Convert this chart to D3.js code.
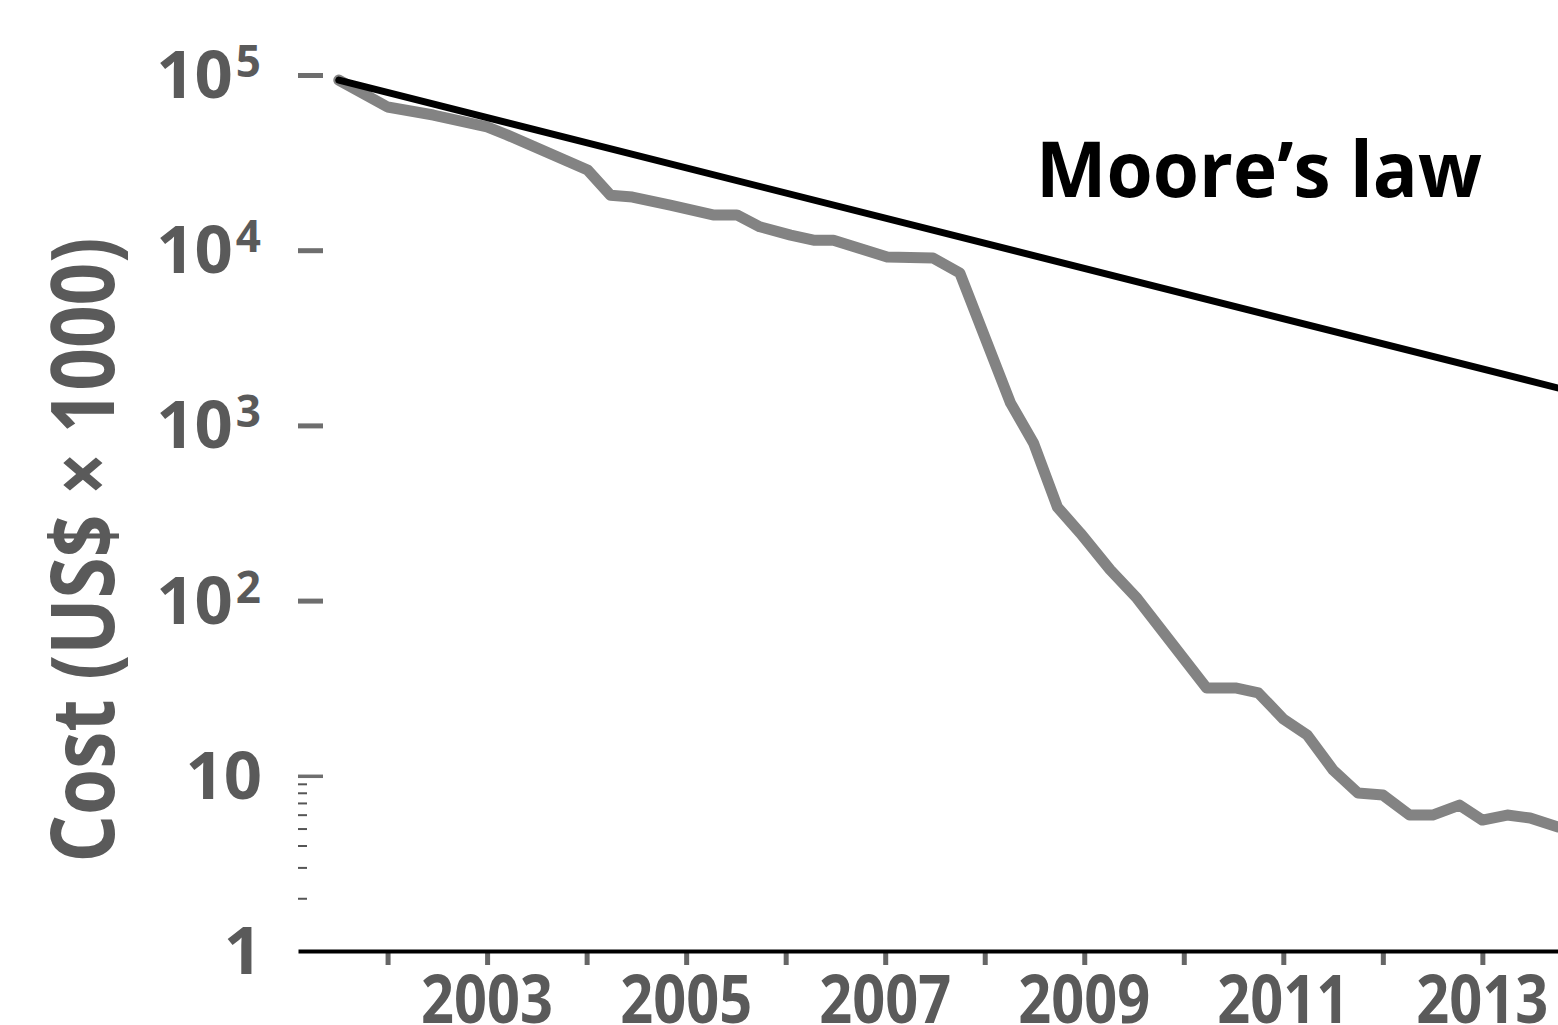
<!DOCTYPE html>
<html>
<head>
<meta charset="utf-8">
<script src="https://d3js.org/d3.v7.min.js"></script>
<style>
  body { margin: 0; background: #fff; }
  text { font-family: "Open Sans", "Noto Sans", sans-serif; font-weight: bold; }
</style>
</head>
<body>
<script>
// cost per genome (US$ x 1000)
var years = [2001.51, 2002.00, 2002.46, 2003.00, 2003.20, 2004.01, 2004.24, 2004.46, 2004.84,
             2005.27, 2005.51, 2005.74, 2006.05, 2006.28, 2006.48, 2007.02, 2007.48, 2007.75,
             2008.26, 2008.49, 2008.73, 2008.96, 2009.26, 2009.53, 2010.23, 2010.53, 2010.75,
             2011.00, 2011.24, 2011.50, 2011.75, 2012.00, 2012.27, 2012.50, 2012.77, 2013.00,
             2013.25, 2013.48, 2013.76];
var costs = [93500, 65700, 59100, 50500, 45500, 28700, 20600, 20100, 18100,
             15900, 15900, 13600, 12200, 11400, 11400, 9150, 9020, 7410,
             1340, 794, 342, 243, 150, 103, 31.7, 31.7, 29.7,
             21.1, 17.1, 10.8, 7.98, 7.77, 5.97, 5.97, 6.81, 5.59,
             5.97, 5.74, 5.10];

// Moore's law reference line
var mooreYears = [2001.51, 2014.0];
var mooreCosts = [93500, 1510];

var yTicks = [1, 10, 100, 1000, 10000, 100000];
var yTickBase = ["1", "10", "10", "10", "10", "10"];
var yTickExp = ["", "", "2", "3", "4", "5"];
var yMinor = [2, 3, 4, 5, 6, 7, 8, 9];
var xTicks = [2002, 2003, 2004, 2005, 2006, 2007, 2008, 2009, 2010, 2011, 2012, 2013];
var xLabels = [2003, 2005, 2007, 2009, 2011, 2013];

var width = 1558, height = 1025;
var grey = "#5a5a5a";

var svg = d3.select("body").append("svg")
    .attr("width", width)
    .attr("height", height);

var x = d3.scaleLinear().domain([2001.1, 2013.76]).range([298, 1558]);
var y = d3.scaleLog().domain([1, 1e5]).range([951, 75]);

// y ticks (pointing into the plot)
svg.append("g")
    .attr("transform", "translate(298,0)")
    .call(d3.axisRight(y).tickValues(yTicks.slice(1)).tickSize(25).tickFormat(""))
    .call(g => g.select(".domain").remove())
    .call(g => g.selectAll(".tick line")
        .attr("stroke", "#6e6e6e")
        .attr("stroke-width", d => d === 10 ? 3.5 : 5));

svg.append("g")
    .attr("transform", "translate(298,0)")
    .call(d3.axisRight(y).tickValues(yMinor).tickSize(9).tickFormat(""))
    .call(g => g.select(".domain").remove())
    .call(g => g.selectAll(".tick line").attr("stroke", "#555").attr("stroke-width", 2));

// y tick labels with superscripts
var ylab = svg.append("g").selectAll("text")
    .data(yTicks).enter()
    .append("text")
    .attr("x", (d, i) => yTickExp[i] ? 261 : 262)
    .attr("y", d => y(d) + 23)
    .attr("text-anchor", "end")
    .attr("font-size", 67)
    .attr("fill", grey);
ylab.append("tspan").text((d, i) => yTickBase[i]);
ylab.filter((d, i) => yTickExp[i] !== "")
    .append("tspan")
    .attr("font-size", 44)
    .attr("dx", 3)
    .attr("dy", -21)
    .text(d => yTickExp[yTicks.indexOf(d)]);

// x axis
var xg = svg.append("g")
    .attr("transform", "translate(0,951)")
    .call(d3.axisBottom(x).tickValues(xTicks).tickSize(14).tickSizeOuter(0).tickFormat(""));
xg.selectAll(".tick line").attr("stroke", "#666").attr("stroke-width", 5);
xg.select(".domain").attr("stroke", "#000").attr("stroke-width", 4).raise();

svg.append("g").selectAll("text")
    .data(xLabels).enter()
    .append("text")
    .attr("x", d => x(d))
    .attr("y", 1023)
    .attr("text-anchor", "middle")
    .attr("font-size", 66)
    .attr("textLength", 132)
    .attr("lengthAdjust", "spacingAndGlyphs")
    .attr("fill", grey)
    .text(d => d);

// lines
var line = d3.line().x(d => x(d[0])).y(d => y(d[1]));

svg.append("path")
    .datum(years.map((d, i) => [d, costs[i]]))
    .attr("d", line)
    .attr("fill", "none")
    .attr("stroke", "#838383")
    .attr("stroke-width", 11)
    .attr("stroke-linejoin", "round")
    .attr("stroke-linecap", "round");

svg.append("path")
    .datum(mooreYears.map((d, i) => [d, mooreCosts[i]]))
    .attr("d", line)
    .attr("fill", "none")
    .attr("stroke", "#000")
    .attr("stroke-width", 7)
    .attr("stroke-linecap", "round");

svg.append("text")
    .attr("x", 1036)
    .attr("y", 197)
    .attr("font-size", 77)
    .attr("textLength", 446)
    .attr("lengthAdjust", "spacingAndGlyphs")
    .attr("fill", "#000")
    .text("Moore\u2019s law");

// y title
svg.append("text")
    .attr("transform", "translate(114,550) rotate(-90)")
    .attr("text-anchor", "middle")
    .attr("font-size", 88)
    .attr("textLength", 625)
    .attr("lengthAdjust", "spacingAndGlyphs")
    .attr("fill", grey)
    .text("Cost (US$ \u00d7 1000)");
</script>
</body>
</html>
